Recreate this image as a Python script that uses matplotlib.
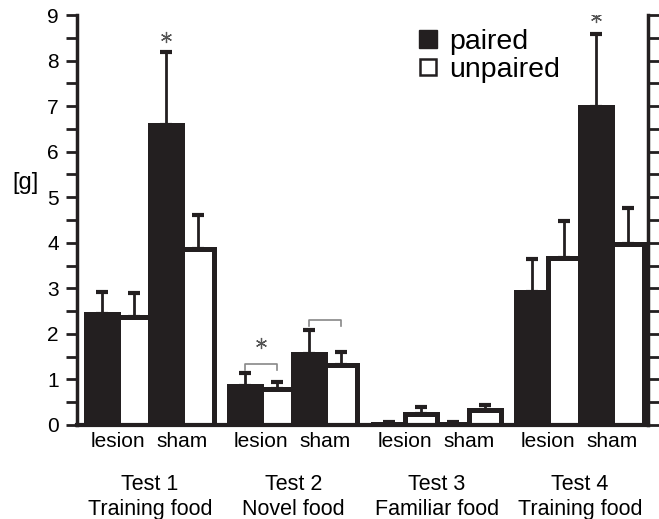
import numpy as np
import matplotlib
matplotlib.use("Agg")
import matplotlib.pyplot as plt
from matplotlib.lines import Line2D
from matplotlib.ticker import MultipleLocator

plt.rcParams['font.family'] = ['Liberation Sans', 'DejaVu Sans']

tests = ["Test 1\nTraining food", "Test 2\nNovel food",
         "Test 3\nFamiliar food", "Test 4\nTraining food"]
conditions = ["lesion", "sham"]

# order: test1 lesion, test1 sham, test2 lesion, ...
paired = [2.44, 6.58, 0.86, 1.56, 0.03, 0.03, 2.92, 6.99]
paired_err = [0.47, 1.60, 0.28, 0.52, 0.04, 0.04, 0.72, 1.60]
unpaired = [2.37, 3.86, 0.80, 1.32, 0.25, 0.32, 3.66, 3.97]
unpaired_err = [0.53, 0.74, 0.14, 0.28, 0.14, 0.11, 0.81, 0.80]

# significance: (index of condition, height)
stars = [(1, 8.52), (7, 8.96), (2, 1.8)]
brackets = [(2, 1.34), (3, 2.3)]

fig = plt.figure(figsize=(6.59, 5.19), dpi=100)
ax = fig.add_axes([77 / 659, 94 / 519, 571 / 659, 410 / 519])

# layout: bar width 1, 4 bars per test, gap between tests
start, period = 0.28, 4.48
cond_left = np.array([start + period * (i // 2) + 2 * (i % 2) for i in range(8)])
xp = cond_left + 0.5
xu = cond_left + 1.5

dark = "#231f20"
lw = 3.6
ax.bar(xp, paired, width=1, color=dark, edgecolor=dark, linewidth=lw, zorder=2)
ax.bar(xu, unpaired, width=1, color="white", edgecolor=dark, linewidth=lw, zorder=2)

ax.errorbar(xp, paired, yerr=[np.zeros(8), paired_err], fmt="none", ecolor=dark,
            elinewidth=2, capsize=4.5, capthick=3, zorder=1)
ax.errorbar(xu, unpaired, yerr=[np.zeros(8), unpaired_err], fmt="none", ecolor=dark,
            elinewidth=2, capsize=4.5, capthick=3, zorder=1)

for i, h in stars:
    x = xp[i] if i != 2 else cond_left[i] + 1
    ax.plot(x, h, marker=(6, 2, 0), markersize=8, mew=0.9, color="#555555", zorder=3)

for i, h in brackets:
    x0, x1 = xp[i], xu[i]
    ax.plot([x0, x0, x1, x1], [h - 0.13, h, h, h - 0.13], color="#888888", lw=1.2, zorder=3)

ax.set_xlim(0, 571 / 32)
ax.set_ylim(0, 9)

ax.set_xticks(cond_left + 1)
ax.set_xticklabels(conditions * 4, fontsize=15)
ax.tick_params(axis="x", length=0, pad=5)

ax.yaxis.set_major_locator(MultipleLocator(1))
ax.yaxis.set_minor_locator(MultipleLocator(0.5))
ax.tick_params(axis="y", which="both", direction="out", width=2, labelsize=15,
               right=True, left=True, color=dark, length=8, pad=5)

for s in ["left", "right"]:
    ax.spines[s].set_linewidth(2.5)
    ax.spines[s].set_color(dark)
ax.spines["bottom"].set_linewidth(3)
ax.spines["bottom"].set_color(dark)
ax.spines["top"].set_visible(False)

for k, t in enumerate(tests):
    cx = start + period * k + 2
    ax.text(cx, -0.12, t, transform=ax.get_xaxis_transform(), ha="center", va="top",
            fontsize=15.5, linespacing=1.25)

fig.text(25 / 659, 1 - 183 / 519, "[g]", fontsize=17, ha="center", va="center")

handles = [
    Line2D([], [], marker="s", linestyle="none", markersize=13, markerfacecolor=dark,
           markeredgecolor=dark),
    Line2D([], [], marker="s", linestyle="none", markersize=12, markerfacecolor="white",
           markeredgecolor=dark, markeredgewidth=1.8),
]
ax.legend(handles, ["paired", "unpaired"], loc="upper left", bbox_to_anchor=(0.57, 1.0),
          frameon=False, fontsize=20.5, handlelength=0.8, handletextpad=0.35,
          labelspacing=0.05, borderpad=0)

fig.savefig("out.png", dpi=100)
